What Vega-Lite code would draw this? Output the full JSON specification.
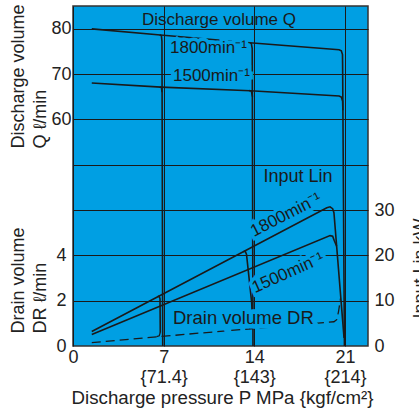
{
  "$schema": "https://vega.github.io/schema/vega-lite/v6.json",
  "width": 295,
  "height": 340,
  "autosize": {"type": "none"},
  "padding": {"left": 73, "top": 6, "right": 51, "bottom": 66},
  "background": "white",
  "config": {
    "view": {"fill": "#009FE3", "stroke": "#333333", "strokeWidth": 1.5},
    "font": "Liberation Sans",
    "axis": {
      "labelFont": "Liberation Sans", "titleFont": "Liberation Sans",
      "labelFontSize": 18, "titleFontSize": 18, "titleFontWeight": "normal",
      "labelColor": "#222222", "titleColor": "#222222",
      "ticks": false, "domain": false, "labelFlush": false, "labelOverlap": false,
      "gridColor": "#1a1a1a", "gridOpacity": 1, "gridWidth": 1
    },
    "text": {"font": "Liberation Sans", "fontSize": 17, "color": "#1a1a1a"}
  },
  "datasets": {
    "q": [
      {"s": "Q1800", "p": 1.45, "v": 79.95}, {"s": "Q1800", "p": 6.75, "v": 78.6}, {"s": "Q1800", "p": 13.65, "v": 76.9}, {"s": "Q1800", "p": 20.55, "v": 75.35}, {"s": "Q1800", "p": 20.72, "v": 75.1}, {"s": "Q1800", "p": 20.81, "v": 74.3}, {"s": "Q1800", "p": 20.82, "v": 72}, {"s": "Q1800", "p": 20.96, "v": 10},
      {"s": "Q1800d7", "p": 6.7, "v": 78.65}, {"s": "Q1800d7", "p": 6.83, "v": 78.4}, {"s": "Q1800d7", "p": 6.87, "v": 77.2}, {"s": "Q1800d7", "p": 6.93, "v": 10},
      {"s": "Q1800d14", "p": 13.62, "v": 76.92}, {"s": "Q1800d14", "p": 13.77, "v": 76.7}, {"s": "Q1800d14", "p": 13.84, "v": 75.6}, {"s": "Q1800d14", "p": 13.9, "v": 10},
      {"s": "Q1500", "p": 1.45, "v": 68.0}, {"s": "Q1500", "p": 6.8, "v": 67.1}, {"s": "Q1500", "p": 13.7, "v": 66.3}, {"s": "Q1500", "p": 20.55, "v": 65.15}, {"s": "Q1500", "p": 20.72, "v": 64.9}, {"s": "Q1500", "p": 20.82, "v": 64.0}, {"s": "Q1500", "p": 20.84, "v": 62},
      {"s": "Q1500d7", "p": 6.7, "v": 67.15}, {"s": "Q1500d7", "p": 6.83, "v": 67.0}, {"s": "Q1500d7", "p": 6.88, "v": 66.0},
      {"s": "Q1500d14", "p": 13.6, "v": 66.35}, {"s": "Q1500d14", "p": 13.78, "v": 66.2}, {"s": "Q1500d14", "p": 13.86, "v": 65.0}
    ],
    "dr": [
      {"s": "DR", "p": 1.45, "v": 0.15}, {"s": "DR", "p": 9.8, "v": 0.57}, {"s": "DR", "p": 18.3, "v": 0.98}, {"s": "DR", "p": 20.15, "v": 1.07}, {"s": "DR", "p": 20.36, "v": 1.16}, {"s": "DR", "p": 20.5, "v": 1.5}, {"s": "DR", "p": 20.66, "v": 2.1}
    ],
    "drhook": [
      {"s": "h7", "p": 6.45, "v": 0.41}, {"s": "h7", "p": 6.66, "v": 0.45}, {"s": "h7", "p": 6.74, "v": 0.6},
      {"s": "h14", "p": 13.6, "v": 0.77}, {"s": "h14", "p": 13.8, "v": 0.8}, {"s": "h14", "p": 13.88, "v": 0.86}
    ],
    "kw": [
      {"s": "K1800", "p": 1.45, "v": 3.2}, {"s": "K1800", "p": 19.6, "v": 30.5}, {"s": "K1800", "p": 19.85, "v": 30.7}, {"s": "K1800", "p": 20.05, "v": 30.3}, {"s": "K1800", "p": 20.15, "v": 29.4}, {"s": "K1800", "p": 20.93, "v": 1.8},
      {"s": "K1500", "p": 1.45, "v": 2.55}, {"s": "K1500", "p": 19.85, "v": 24.35}, {"s": "K1500", "p": 20.05, "v": 24.2}, {"s": "K1500", "p": 20.18, "v": 23.2}, {"s": "K1500", "p": 20.36, "v": 22.0},
      {"s": "K1800d7", "p": 6.55, "v": 10.95}, {"s": "K1800d7", "p": 6.66, "v": 10.95}, {"s": "K1800d7", "p": 6.72, "v": 10.4}, {"s": "K1800d7", "p": 6.74, "v": 2.9},
      {"s": "K1800d14", "p": 13.15, "v": 20.8}, {"s": "K1800d14", "p": 13.3, "v": 20.9}, {"s": "K1800d14", "p": 13.4, "v": 20.2}, {"s": "K1800d14", "p": 13.8, "v": 9.5}, {"s": "K1800d14", "p": 13.88, "v": 3.9}
    ],
    "qtitle": [{"t": "Discharge volume Q", "p": 11.27, "v": 81.9}],
    "qtext": [{"t": "1800min⁻¹", "p": 7.49, "v": 75.7}, {"t": "1500min⁻¹", "p": 7.72, "v": 69.56}],
    "kwtext": [{"t": "Input Lin", "p": 17.37, "v": 37.3}],
    "kw1800t": [{"t": "1800min⁻¹", "p": 16.45, "v": 28.9}],
    "kw1500t": [{"t": "1500min⁻¹", "p": 16.6, "v": 16.1}],
    "drtext": [{"t": "Drain volume DR", "p": 7.72, "v": 1.235}]
  },
  "resolve": {"scale": {"x": "independent", "y": "independent"}, "axis": {"x": "independent", "y": "independent"}},
  "layer": [
    {
      "data": {"name": "q"},
      "mark": {"type": "line", "color": "#1a1a1a", "strokeWidth": 1.6},
      "encoding": {
        "x": {"field": "p", "type": "quantitative", "scale": {"domain": [0, 22.78], "nice": false, "zero": false},
          "axis": {"orient": "bottom", "values": [0, 7, 14, 21], "grid": true, "labelPadding": 2, "title": null}},
        "y": {"field": "v", "type": "quantitative", "scale": {"domain": [10, 85], "nice": false, "zero": false},
          "axis": {"orient": "left", "values": [20, 30, 40, 50, 60, 70, 80], "grid": true, "labelPadding": 2,
            "labelExpr": "datum.value >= 60 ? datum.label : ''",
            "title": ["Discharge volume", "Q ℓ/min"], "titleAngle": 270, "titleAlign": "left", "titleBaseline": "bottom",
            "titleX": -46, "titleY": 142, "titleLineHeight": 22}},
        "detail": {"field": "s"},
        "order": {"value": null}
      }
    },
    {
      "data": {"name": "dr"},
      "mark": {"type": "line", "color": "#1a1a1a", "strokeWidth": 1.3, "strokeDash": [9, 5]},
      "encoding": {
        "x": {"field": "p", "type": "quantitative", "scale": {"domain": [0, 22.78], "nice": false, "zero": false},
          "axis": {"orient": "bottom", "values": [7, 14, 21], "grid": false, "labelPadding": 22,
            "labelExpr": "datum.value == 7 ? '{71.4}' : datum.value == 14 ? '{143}' : '{214}'",
            "title": "Discharge pressure P MPa {kgf/cm²}", "titleFontSize": 18.7, "titleBaseline": "alphabetic", "titleY": 57, "titleX": 149}},
        "y": {"field": "v", "type": "quantitative", "scale": {"domain": [0, 15], "nice": false, "zero": false},
          "axis": {"orient": "left", "values": [0, 2, 4], "grid": false, "labelPadding": 7,
            "title": ["Drain volume", "DR ℓ/min"], "titleAngle": 270, "titleAlign": "left", "titleBaseline": "bottom",
            "titleX": -46, "titleY": 327, "titleLineHeight": 22}},
        "detail": {"field": "s"},
        "order": {"value": null}
      }
    },
    {
      "data": {"name": "drhook"},
      "mark": {"type": "line", "color": "#1a1a1a", "strokeWidth": 1.3},
      "encoding": {
        "x": {"field": "p", "type": "quantitative", "scale": {"domain": [0, 22.78], "nice": false, "zero": false}, "axis": null},
        "y": {"field": "v", "type": "quantitative", "scale": {"domain": [0, 15], "nice": false, "zero": false}, "axis": null},
        "detail": {"field": "s"},
        "order": {"value": null}
      }
    },
    {
      "data": {"name": "kw"},
      "mark": {"type": "line", "color": "#1a1a1a", "strokeWidth": 1.6},
      "encoding": {
        "x": {"field": "p", "type": "quantitative", "scale": {"domain": [0, 22.78], "nice": false, "zero": false}, "axis": null},
        "y": {"field": "v", "type": "quantitative", "scale": {"domain": [0, 75], "nice": false, "zero": false},
          "axis": {"orient": "right", "values": [0, 10, 20, 30], "grid": false, "labelPadding": 6,
            "title": "Input Lin kW", "titleAngle": 270, "titleAlign": "center", "titleBaseline": "alphabetic",
            "titleX": 57, "titleY": 262}},
        "detail": {"field": "s"},
        "order": {"value": null}
      }
    },
    {
      "data": {"name": "qtitle"},
      "mark": {"type": "text", "align": "center", "baseline": "middle"},
      "encoding": {
        "x": {"field": "p", "type": "quantitative", "scale": {"domain": [0, 22.78], "nice": false, "zero": false}, "axis": null},
        "y": {"field": "v", "type": "quantitative", "scale": {"domain": [10, 85], "nice": false, "zero": false}, "axis": null},
        "text": {"field": "t"}
      }
    },
    {
      "data": {"name": "qtext"},
      "mark": {"type": "text", "align": "left", "baseline": "middle", "stroke": "#009FE3", "strokeWidth": 7, "fill": "#009FE3"},
      "encoding": {
        "x": {"field": "p", "type": "quantitative", "scale": {"domain": [0, 22.78], "nice": false, "zero": false}, "axis": null},
        "y": {"field": "v", "type": "quantitative", "scale": {"domain": [10, 85], "nice": false, "zero": false}, "axis": null},
        "text": {"field": "t"}
      }
    },
    {
      "data": {"name": "qtext"},
      "mark": {"type": "text", "align": "left", "baseline": "middle"},
      "encoding": {
        "x": {"field": "p", "type": "quantitative", "scale": {"domain": [0, 22.78], "nice": false, "zero": false}, "axis": null},
        "y": {"field": "v", "type": "quantitative", "scale": {"domain": [10, 85], "nice": false, "zero": false}, "axis": null},
        "text": {"field": "t"}
      }
    },
    {
      "data": {"name": "drtext"},
      "mark": {"type": "text", "align": "left", "baseline": "middle", "fontSize": 18.5, "stroke": "#009FE3", "strokeWidth": 9, "fill": "#009FE3"},
      "encoding": {
        "x": {"field": "p", "type": "quantitative", "scale": {"domain": [0, 22.78], "nice": false, "zero": false}, "axis": null},
        "y": {"field": "v", "type": "quantitative", "scale": {"domain": [0, 15], "nice": false, "zero": false}, "axis": null},
        "text": {"field": "t"}
      }
    },
    {
      "data": {"name": "drtext"},
      "mark": {"type": "text", "align": "left", "baseline": "middle", "fontSize": 18.5},
      "encoding": {
        "x": {"field": "p", "type": "quantitative", "scale": {"domain": [0, 22.78], "nice": false, "zero": false}, "axis": null},
        "y": {"field": "v", "type": "quantitative", "scale": {"domain": [0, 15], "nice": false, "zero": false}, "axis": null},
        "text": {"field": "t"}
      }
    },
    {
      "data": {"name": "kwtext"},
      "mark": {"type": "text", "align": "center", "baseline": "middle", "fontSize": 18},
      "encoding": {
        "x": {"field": "p", "type": "quantitative", "scale": {"domain": [0, 22.78], "nice": false, "zero": false}, "axis": null},
        "y": {"field": "v", "type": "quantitative", "scale": {"domain": [0, 75], "nice": false, "zero": false}, "axis": null},
        "text": {"field": "t"}
      }
    },
    {
      "data": {"name": "kw1800t"},
      "mark": {"type": "text", "align": "center", "baseline": "middle", "angle": 333, "stroke": "#009FE3", "strokeWidth": 7, "fill": "#009FE3"},
      "encoding": {
        "x": {"field": "p", "type": "quantitative", "scale": {"domain": [0, 22.78], "nice": false, "zero": false}, "axis": null},
        "y": {"field": "v", "type": "quantitative", "scale": {"domain": [0, 75], "nice": false, "zero": false}, "axis": null},
        "text": {"field": "t"}
      }
    },
    {
      "data": {"name": "kw1800t"},
      "mark": {"type": "text", "align": "center", "baseline": "middle", "angle": 333},
      "encoding": {
        "x": {"field": "p", "type": "quantitative", "scale": {"domain": [0, 22.78], "nice": false, "zero": false}, "axis": null},
        "y": {"field": "v", "type": "quantitative", "scale": {"domain": [0, 75], "nice": false, "zero": false}, "axis": null},
        "text": {"field": "t"}
      }
    },
    {
      "data": {"name": "kw1500t"},
      "mark": {"type": "text", "align": "center", "baseline": "middle", "angle": 336, "stroke": "#009FE3", "strokeWidth": 7, "fill": "#009FE3"},
      "encoding": {
        "x": {"field": "p", "type": "quantitative", "scale": {"domain": [0, 22.78], "nice": false, "zero": false}, "axis": null},
        "y": {"field": "v", "type": "quantitative", "scale": {"domain": [0, 75], "nice": false, "zero": false}, "axis": null},
        "text": {"field": "t"}
      }
    },
    {
      "data": {"name": "kw1500t"},
      "mark": {"type": "text", "align": "center", "baseline": "middle", "angle": 336},
      "encoding": {
        "x": {"field": "p", "type": "quantitative", "scale": {"domain": [0, 22.78], "nice": false, "zero": false}, "axis": null},
        "y": {"field": "v", "type": "quantitative", "scale": {"domain": [0, 75], "nice": false, "zero": false}, "axis": null},
        "text": {"field": "t"}
      }
    }
  ]
}
